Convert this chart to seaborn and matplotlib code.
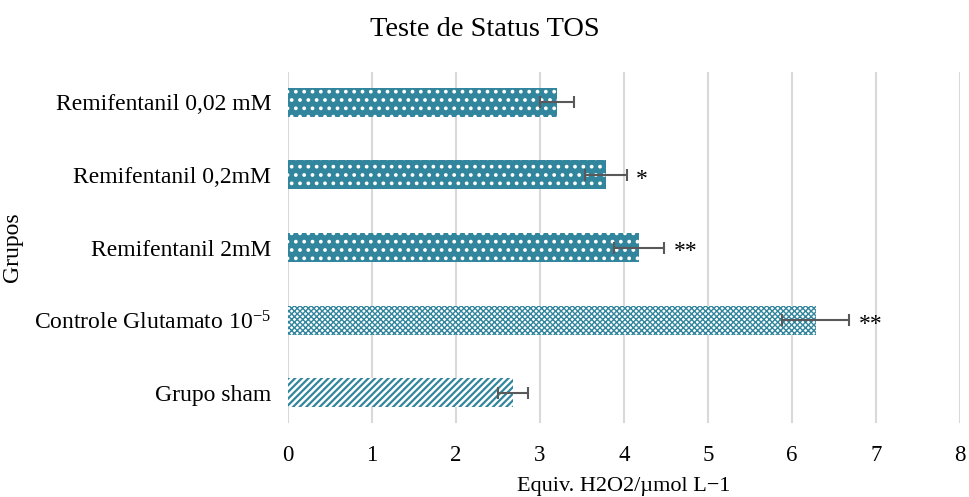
import matplotlib
matplotlib.use("Agg")
import matplotlib.pyplot as plt
import seaborn as sns
import pandas as pd

groups = ["Remifentanil 0,02 mM", "Remifentanil 0,2mM", "Remifentanil 2mM",
          "Controle Glutamato 10$^{\\mathrm{-5}}$", "Grupo sham"]
values = [3.20, 3.78, 4.18, 6.28, 2.68]
errors = [0.20, 0.25, 0.30, 0.40, 0.18]
stars = ["", "*", "**", "**", ""]
xticks = [0, 1, 2, 3, 4, 5, 6, 7, 8]

TEAL = "#31859C"
GRID = "#D9D9D9"
TXT = "#000000"

sns.set_theme(style="white")
plt.rcParams["font.family"] = ["Liberation Serif", "DejaVu Serif"]
plt.rcParams["mathtext.fontset"] = "custom"
plt.rcParams["mathtext.rm"] = "Liberation Serif"
plt.rcParams["mathtext.it"] = "Liberation Serif:italic"

df = pd.DataFrame({"grupo": groups, "valor": values})

fig = plt.figure(figsize=(9.69, 4.97), dpi=100)
ax = fig.add_axes([0.2972, 0.1489, 0.6935, 0.7062])

sns.barplot(data=df, x="valor", y="grupo", color=TEAL, width=0.4,
            errorbar=None, ax=ax, saturation=1, zorder=3)

styles = [
    dict(fc=TEAL, ec="white", hatch="..", hlw=1.5),
    dict(fc=TEAL, ec="white", hatch="..", hlw=1.5),
    dict(fc=TEAL, ec="white", hatch="..", hlw=1.5),
    dict(fc="white", ec=TEAL, hatch="xxxxxx", hlw=1.0),
    dict(fc="white", ec=TEAL, hatch="/////", hlw=1.6),
]
for p, st in zip(ax.patches, styles):
    p.set_facecolor(st["fc"])
    p.set_edgecolor(st["ec"])
    p.set_hatch(st["hatch"])
    p.set_linewidth(0)
    if hasattr(p, "set_hatch_linewidth"):
        p.set_hatch_linewidth(st["hlw"])
    else:
        p._hatch_linewidth = st["hlw"]

ypos = list(range(len(groups)))
ax.errorbar(values, ypos, xerr=errors, fmt="none", ecolor="#595959",
            elinewidth=1.5, capsize=4, capthick=1.5, zorder=4)

for v, e, s, y in zip(values, errors, stars, ypos):
    if s:
        ax.annotate(s, xy=(v + e, y), xytext=(7, -3), textcoords="offset points",
                    ha="left", va="center", fontsize=17, color=TXT)

ax.set_xlim(0, 8)
ax.set_xticks(xticks)
ax.set_xticklabels([str(t) for t in xticks])
ax.xaxis.grid(True, color=GRID, linewidth=1.5, zorder=0)
ax.set_axisbelow(True)
for sp in ax.spines.values():
    sp.set_visible(False)
ax.tick_params(axis="x", length=0, pad=16, labelsize=16.5, labelcolor=TXT)
ax.tick_params(axis="y", length=0, pad=12, labelsize=17, labelcolor=TXT)

ax.set_xlabel("Equiv. H2O2/µmol L\u22121", fontsize=16, color=TXT)
ax.xaxis.set_label_coords(0.5, -0.153)
ax.set_ylabel("Grupos", fontsize=17, color=TXT)
ax.yaxis.set_label_coords(-0.395, 0.5)
fig.suptitle("Teste de Status TOS", fontsize=20.5, color=TXT, y=0.965)

fig.savefig("out.png", dpi=100)
